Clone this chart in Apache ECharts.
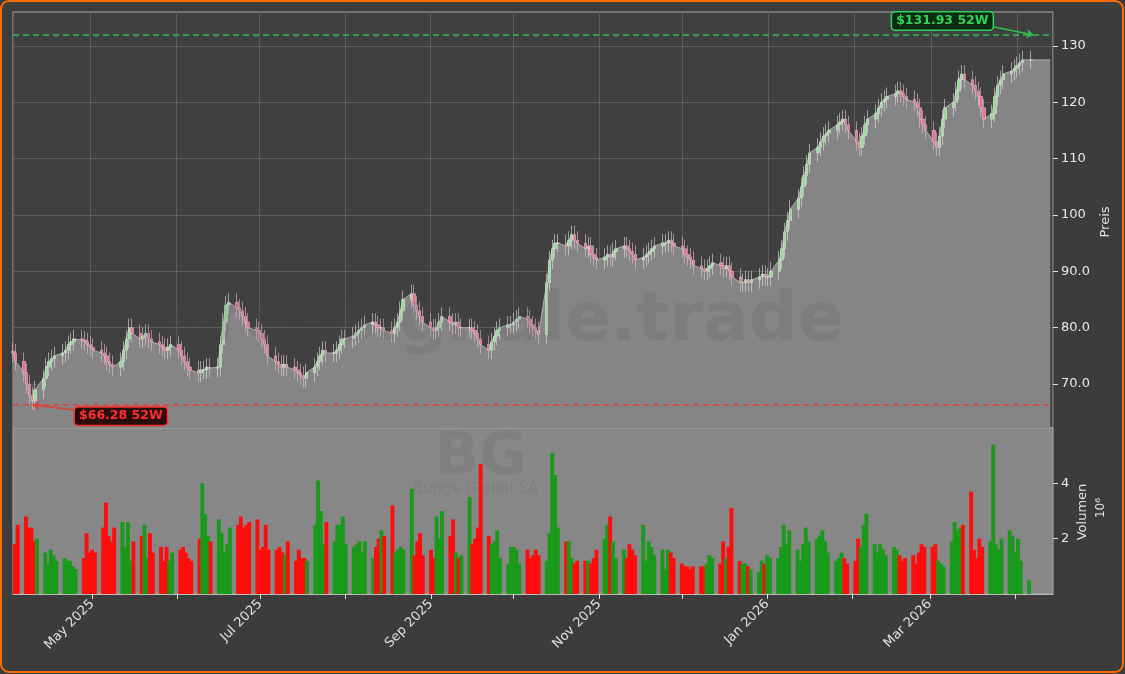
<!DOCTYPE html>
<html><head><meta charset="utf-8">
<script src="https://cdn.jsdelivr.net/npm/echarts@6/dist/echarts.min.js"></script>
<style>html,body{margin:0;padding:0;background:#3c3c3c}#c{width:1125px;height:674px}</style>
</head><body><div id="c"></div>
<script>
const startDate='2025-04-03';
const closeMonths=[
[75.5,74,72,70,68,67,69,71,73,74,74.5,75,75.5,76,77,77.5,78,77.8,77.5,77],
[76.5,76,75.5,75,74,73.5,73,74,76,78,80,79,78,78.5,79,78,77.5,77,76.5,76,76.5,77],
[76,75,74,73,72.5,72,72.5,72.5,73,72.8,73,77,81,84,84.5,83.5,83,82,81,80,79.5],
[79,78,77,75,74,73.5,73,73.5,73,72.5,72,71.5,71,72,73,74,75,76,75.5,75.5,76,77,78],
[78,78.5,79,79.5,80,80.5,81,80.5,80,80,79.5,79,80,81,83,85,86,84,83,82,81],
[80,79.5,80,81,82,81,80.5,81,80,80,80,79.5,79,78,77,76,77.5,78.5,79.5,80,80.5,80.5],
[81,81.5,82,81.5,80.5,80,79.5,78.8,88,92,94,95,95,94.5,95.5,96.5,95.5,95,94,94.5,93,92.5,92],
[92.5,93,92.5,93.5,94,94.5,94,93.5,93,92,92.5,93,93.5,94,94.5,95,95,95.5,95,94.5],
[94,93,92.5,92,91,90.5,90,90.5,91,91.5,91,90.5,91,90,89,88,88,88.5,88,88.5,89,89.5,89],
[89,90,92,94,97,99,101,103,105,107,109,111,112,113,114,114.5,115,116,116.5,117,116,115],
[113,112,114,116,117,118,119,120,120.5,121,121.5,122,121.5,121,120.5,120,119,117,116,115],
[113,112,114,117,119,120,122,124,125,124,123,122,121,119,117,118,121,123,124,125,125.5,126],
[126.5,127,127.5,127.5]];
const volMonths=[
[1.8,2.5,2.8,2.4,2.4,1.9,2.0,1.5,1.1,1.6,1.4,1.2,1.3,1.2,1.2,1.0,0.9,1.3,2.2,1.5],
[1.6,1.5,2.4,3.3,2.1,1.9,2.4,2.6,1.7,2.6,1.2,1.9,2.1,2.5,1.3,2.2,1.5,1.7,1.2,1.7,1.2,1.5],
[1.6,1.7,1.5,1.3,1.2,2.0,4.0,2.9,2.1,1.9,2.7,2.2,1.5,1.8,2.4,2.5,2.8,2.4,2.5,2.6,2.7],
[1.6,1.7,2.5,1.6,1.6,1.7,1.5,1.4,1.9,1.2,1.6,1.3,1.3,1.2,2.5,4.1,3.0,1.8,2.6,1.9,2.5,2.5,2.8],
[1.8,1.7,1.8,1.9,1.5,1.9,1.3,1.7,2.0,2.3,2.1,3.2,1.5,1.6,1.7,1.6,3.8,1.4,1.9,2.2,1.4],
[1.6,1.3,2.8,2.0,3.0,2.1,2.7,1.5,1.3,1.4,3.5,1.8,2.0,2.4,4.7,2.1,1.8,1.9,2.3,1.3,1.1,1.7],
[1.7,1.6,1.1,1.6,1.3,1.4,1.6,1.4,1.2,2.2,5.1,4.3,2.4,1.9,1.9,1.3,1.1,1.2,1.2,1.2,1.1,1.3,1.6],
[2.0,2.5,2.8,1.9,1.3,1.6,1.3,1.8,1.6,1.4,2.5,1.2,1.9,1.7,1.4,1.6,0.9,1.6,1.5,1.3],
[1.1,1.0,1.0,0.9,1.0,1.0,1.0,1.1,1.4,1.3,1.1,1.9,1.3,1.7,3.1,1.2,1.1,1.1,1.0,0.9,0.8,1.2,1.1],
[1.4,1.3,1.3,1.7,2.5,1.8,2.3,1.6,1.2,1.8,2.4,1.9,2.0,2.1,2.3,1.9,1.5,1.2,1.3,1.5,1.3,1.1],
[1.2,2.0,1.7,2.5,2.9,1.8,1.5,1.8,1.6,1.4,1.7,1.6,1.4,1.2,1.3,1.4,1.1,1.5,1.8,1.7],
[1.7,1.8,1.2,1.1,1.0,1.9,2.6,2.3,2.4,2.5,3.7,1.6,1.3,2.0,1.7,1.9,5.4,1.8,1.6,2.0,2.3,2.1],
[1.5,2.0,1.2,0.5]];
const priceTicks=[70,80,90,100,110,120,130];
const volTicks=[2,4];
const wick=1.6;
const high52=131.93, low52=66.28;
const highDate='2026-04-07', lowDate='2025-04-10';
const areaTail=[['2026-04-13',127.5]];

const closes=closeMonths.flat(), vols=volMonths.flat();
const dates=[]; let d=new Date(startDate+'T00:00:00Z');
while(dates.length<closes.length){const wd=d.getUTCDay(); if(wd!==0&&wd!==6) dates.push(d.toISOString().slice(0,10)); d=new Date(d.getTime()+86400000);}
const candle=closes.map((c,i)=>{const o=i?closes[i-1]:c+0.3;return [dates[i],o,c,Math.min(o,c)-wick,Math.max(o,c)+wick];});
const area=closes.map((c,i)=>[dates[i],c]).concat([[dates[dates.length-1],127.5]],areaTail);
const volData=vols.map((v,i)=>({value:[dates[i],v],itemStyle:{color:(candle[i][2]>=candle[i][1])?'#1a9a1a':'#ff0d0d'}}));
const xmin='2025-04-03', xmax='2026-04-14';
const M=30*86400000;
const chart=echarts.init(document.getElementById('c'));
const lblBox=(col,bg)=>({show:true,color:col,fontWeight:'bold',fontSize:12.5,fontFamily:'DejaVu Sans',backgroundColor:bg,borderColor:col,borderWidth:1.5,borderRadius:3,padding:[2,4]});
const F='DejaVu Sans';
chart.setOption({
 backgroundColor:'#3c3c3c',animation:false,
 textStyle:{fontFamily:F},
 graphic:[
  {type:'rect',shape:{x:1,y:1,width:1122,height:671,r:8},style:{fill:'none',stroke:'#ff6a00',lineWidth:2},z:100},
  {type:'text',left:135,top:288,style:{text:'forexsignale.trade',fill:'rgba(70,70,70,0.12)',font:'bold 68px DejaVu Sans'},z:50},
  {type:'text',left:435,top:430,style:{text:'BG',fill:'rgba(70,70,70,0.12)',font:'bold 58px DejaVu Sans'},z:50},
  {type:'text',left:413,top:482,style:{text:'Bunge Global SA',fill:'rgba(70,70,70,0.12)',font:'15px DejaVu Sans'},z:50},
  {type:'text',x:1106,y:222,rotation:Math.PI/2,style:{text:'Preis',fill:'#e0e0e0',font:'13px DejaVu Sans',align:'center',verticalAlign:'middle'}},
  {type:'text',x:1083,y:512,rotation:Math.PI/2,style:{text:'Volumen',fill:'#e0e0e0',font:'13px DejaVu Sans',align:'center',verticalAlign:'middle'}},
  {type:'text',x:1101,y:508,rotation:Math.PI/2,style:{text:'10⁶',fill:'#e0e0e0',font:'12px DejaVu Sans',align:'center',verticalAlign:'middle'}}
 ],
 grid:[{left:13,right:72,top:12,height:416,backgroundColor:'#404040',show:true,borderColor:'#aaa',borderWidth:1},
       {left:13,right:72,top:428,height:166,show:true,backgroundColor:'#878787',borderColor:'#aaa',borderWidth:1}],
 xAxis:[
  {type:'time',gridIndex:0,min:xmin,max:xmax,minInterval:M,maxInterval:M,axisLabel:{show:false},axisTick:{show:false},axisLine:{show:false},splitLine:{show:true,lineStyle:{color:'#5c5c5c'}}},
  {type:'time',gridIndex:1,min:xmin,max:xmax,minInterval:M,maxInterval:M,axisLine:{lineStyle:{color:'#bbb'}},axisTick:{lineStyle:{color:'#ddd'},length:5},splitLine:{show:false},
   axisLabel:{color:'#e0e0e0',fontSize:13,rotate:45,hideOverlap:false,formatter:function(v){const t=new Date(v);const m=t.getMonth();if(t.getDate()!==1||m%2===1)return '';return ['Jan','Feb','Mar','Apr','May','Jun','Jul','Aug','Sep','Oct','Nov','Dec'][m]+' '+t.getFullYear();}}}
 ],
 yAxis:[
  {type:'value',gridIndex:0,position:'right',min:62.2,max:136,axisLine:{show:false},
   axisTick:{show:true,lineStyle:{color:'#ddd'},length:5,customValues:priceTicks},
   axisLabel:{color:'#e8e8e8',fontSize:13,margin:8,customValues:priceTicks,formatter:v=>v>=100?String(v):v.toFixed(1)},
   splitLine:{lineStyle:{color:'#5c5c5c'}}},
  {type:'value',gridIndex:1,position:'right',min:0,max:6,axisLine:{show:false},
   axisTick:{show:true,lineStyle:{color:'#ddd'},length:5,customValues:volTicks},
   axisLabel:{color:'#e8e8e8',fontSize:13,customValues:volTicks},splitLine:{show:false}}
 ],
 series:[
  {type:'line',xAxisIndex:0,yAxisIndex:0,data:area,symbol:'none',lineStyle:{color:'#b0b0b0',width:1},areaStyle:{color:'#858585',opacity:1},z:2},
  {type:'candlestick',xAxisIndex:0,yAxisIndex:0,data:candle,barWidth:2.8,
   itemStyle:{color:'#90e090',color0:'#f07090',borderColor:'#e0e0e0',borderColor0:'#e8c0cc',borderWidth:0.6},z:3,
   markLine:{silent:true,symbol:'none',label:{show:false},data:[
    {yAxis:high52,lineStyle:{color:'#2fbf4f',type:[6,4],width:1.5}},
    {yAxis:low52,lineStyle:{color:'#e0403a',type:[6,4],width:1.5}},
    [{coord:['2026-03-22',133.5],symbol:'none',lineStyle:{color:'#2fbf4f',width:1.5,type:'solid'}},{coord:[highDate,high52],symbol:'arrow',symbolSize:7}],
    [{coord:['2025-04-27',65.3],symbol:'none',lineStyle:{color:'#e0403a',width:1.5,type:'solid'}},{coord:[lowDate,low52],symbol:'arrow',symbolSize:7}]
   ]},
   markPoint:{symbol:'circle',symbolSize:0,data:[
    {coord:['2026-03-05',134.4],label:Object.assign(lblBox('#2fd35a','#0d2a12'),{formatter:'$131.93 52W'})},
    {coord:['2025-05-12',64.3],label:Object.assign(lblBox('#ff3030','#2a0d0d'),{formatter:'$66.28 52W'})}
   ]}},
  {type:'bar',xAxisIndex:1,yAxisIndex:1,data:volData,barWidth:3.9,barGap:'0%',z:2}
 ]
});
</script></body></html>
